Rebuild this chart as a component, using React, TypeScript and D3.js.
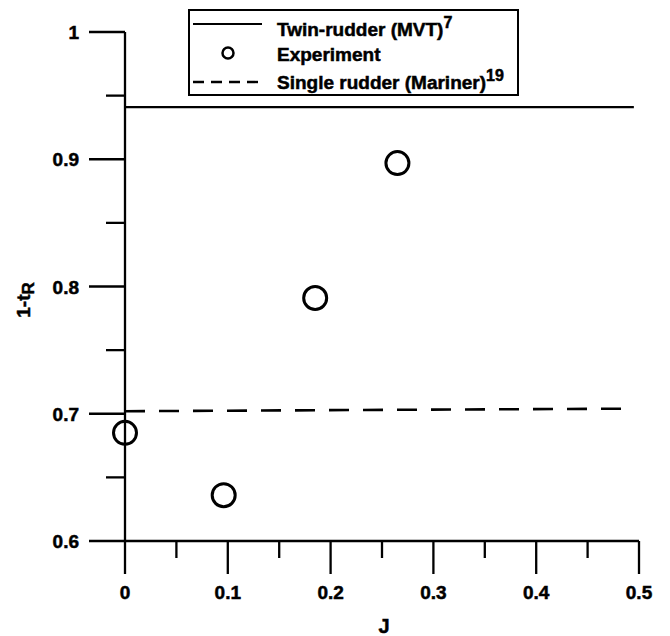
import React from "react";
import * as d3 from "d3";

const xMajorTicks = [0, 0.1, 0.2, 0.3, 0.4, 0.5];
const xTickLabels = ["0", "0.1", "0.2", "0.3", "0.4", "0.5"];
const xMinorTicks = [0.05, 0.15, 0.25, 0.35, 0.45];
const yMajorTicks = [0.6, 0.7, 0.8, 0.9, 1];
const yTickLabels = ["0.6", "0.7", "0.8", "0.9", "1"];
const yMinorTicks = [0.65, 0.75, 0.85, 0.95];

const expJ = [0, 0.096, 0.185, 0.265];
const expT = [0.685, 0.636, 0.791, 0.897];

const twinJ = [0, 0.495];
const twinT = [0.941, 0.941];

const singleJ = [0, 0.487];
const singleT = [0.702, 0.704];

const FONT = "'Liberation Sans', Arial, Helvetica, sans-serif";

export default function App() {
  const W = 670;
  const H = 636;
  const x = d3.scaleLinear().domain([0, 0.5]).range([125, 639]);
  const y = d3.scaleLinear().domain([0.6, 1]).range([541, 32]);
  const line = d3
    .line<[number, number]>()
    .x((d) => x(d[0]))
    .y((d) => y(d[1]));
  const twinPts = twinJ.map((j, i) => [j, twinT[i]] as [number, number]);
  const singlePts = singleJ.map((j, i) => [j, singleT[i]] as [number, number]);
  const x0 = x(0);
  const y0 = y(0.6);
  const textStroke = { stroke: "#000", strokeWidth: 0.5 };

  return (
    <svg
      width={W}
      height={H}
      style={{ position: "absolute", left: 0, top: 0, background: "#fff" }}
      fontFamily={FONT}
      fontWeight="bold"
    >
      <rect x={0} y={0} width={W} height={H} fill="#fff" />
      {/* axes */}
      <g stroke="#000" strokeWidth={2.3} fill="none">
        <line x1={x0} x2={x0} y1={y(1)} y2={y0} />
        <line x1={x0} x2={x(0.5)} y1={y0} y2={y0} />
        {yMajorTicks.map((t) => (
          <line key={"ym" + t} x1={x0 - 36} x2={x0} y1={y(t)} y2={y(t)} />
        ))}
        {yMinorTicks.map((t) => (
          <line key={"yn" + t} x1={x0 - 19} x2={x0} y1={y(t)} y2={y(t)} />
        ))}
        {xMajorTicks.map((t) => (
          <line key={"xm" + t} x1={x(t)} x2={x(t)} y1={y0} y2={y0 + 33} />
        ))}
        {xMinorTicks.map((t) => (
          <line key={"xn" + t} x1={x(t)} x2={x(t)} y1={y0} y2={y0 + 17} />
        ))}
      </g>
      {/* tick labels */}
      <g style={{ fontSize: "19px" }} fill="#000" {...textStroke}>
        {yMajorTicks.map((t, i) => (
          <text key={"yl" + t} x={x0 - 46} y={y(t) + 7} textAnchor="end">
            {yTickLabels[i]}
          </text>
        ))}
        {xMajorTicks.map((t, i) => (
          <text key={"xl" + t} x={x(t)} y={y0 + 58} textAnchor="middle">
            {xTickLabels[i]}
          </text>
        ))}
      </g>
      {/* axis titles */}
      <text x={384} y={633} style={{ fontSize: "20px" }} textAnchor="middle" fill="#000" {...textStroke}>
        J
      </text>
      <text
        transform="translate(30,300) rotate(-90)"
        style={{ fontSize: "19px" }}
        textAnchor="middle"
        fill="#000"
        {...textStroke}
      >
        1-t
        <tspan style={{ fontSize: "17px" }} dy={4}>
          R
        </tspan>
      </text>
      {/* series */}
      <path d={line(twinPts) || ""} stroke="#000" strokeWidth={2.2} fill="none" />
      <path
        d={line(singlePts) || ""}
        stroke="#000"
        strokeWidth={2.6}
        strokeDasharray="20 14"
        fill="none"
      />
      {expJ.map((j, i) => (
        <circle
          key={"c" + i}
          cx={x(j)}
          cy={y(expT[i])}
          r={11.5}
          fill="none"
          stroke="#000"
          strokeWidth={3}
        />
      ))}
      {/* legend */}
      <rect x={189} y={10} width={329} height={85} fill="#fff" stroke="#000" strokeWidth={2} />
      <line x1={193} x2={262} y1={24} y2={24} stroke="#000" strokeWidth={2.2} />
      <circle cx={228} cy={53} r={5.5} fill="none" stroke="#000" strokeWidth={2.5} />
      <line
        x1={193}
        x2={262}
        y1={82}
        y2={82}
        stroke="#000"
        strokeWidth={2.4}
        strokeDasharray="11 7"
      />
      <g style={{ fontSize: "19px" }} fill="#000" {...textStroke}>
        <text x={277} y={36}>
          Twin-rudder (MVT)
          <tspan style={{ fontSize: "16px" }} dy={-8}>
            7
          </tspan>
        </text>
        <text x={277} y={61}>
          Experiment
        </text>
        <text x={277} y={89}>
          Single rudder (Mariner)
          <tspan style={{ fontSize: "16px" }} dy={-8}>
            19
          </tspan>
        </text>
      </g>
    </svg>
  );
}
